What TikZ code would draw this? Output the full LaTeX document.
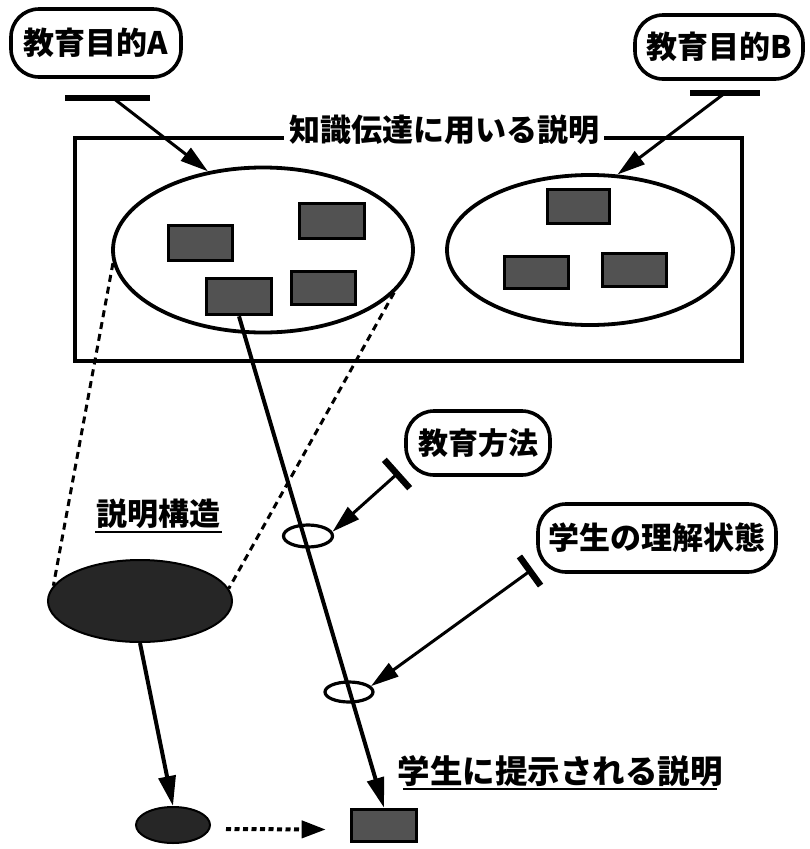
\documentclass[tikz,border=0pt]{standalone}
\usepackage{fontspec}
\setmainfont{Noto Sans CJK JP}
\usetikzlibrary{arrows.meta,shapes.geometric,calc}
\begin{document}
\begin{tikzpicture}[x=1pt,y=-1pt,
  lab/.style={draw, line width=3.6pt, rounded corners=28pt, minimum height=66pt, inner sep=6pt,
    font=\fontsize{31}{31}\selectfont\bfseries},
  txt/.style={inner sep=1pt, font=\fontsize{31}{31}\selectfont\bfseries},
  dkbox/.style={draw, line width=3.6pt, fill=black!68, inner sep=0pt},
  dkell/.style={ellipse, draw, line width=2pt, fill=black!85, inner sep=0pt},
  ring/.style={ellipse, draw, line width=3.2pt, inner sep=0pt},
  bigell/.style={ellipse, draw, line width=3.8pt, inner sep=0pt},
  bar/.style={line width=6.5pt},
  arr/.style={line width=3pt, -{Triangle[length=28pt,width=16pt]}},
  thickarr/.style={line width=4pt, -{Triangle[length=30pt,width=17pt]}},
  dashln/.style={line width=3pt, dash pattern=on 7pt off 5pt},
  dotarr/.style={line width=4pt, dash pattern=on 5pt off 3.5pt, -{Triangle[length=24pt,width=17pt]}},
  uline/.style={line width=2.6pt}
]
\useasboundingbox (0,0) rectangle (810,849);

% knowledge frame
\node[draw, line width=4pt, minimum width=667pt, minimum height=223pt, inner sep=0pt] (kb) at (408,249) {};
\node[txt, fill=white, inner sep=5pt] (kbt) at (444,130) {知識伝達に用いる説明};

% goal boxes
\node[lab, minimum width=170pt, minimum height=68pt] (gA) at (96,43) {教育目的A};
\node[lab, minimum width=168pt, minimum height=64pt] (gB) at (719,47) {教育目的B};
\node[lab, minimum width=144pt, minimum height=64pt, font=\fontsize{30}{30}\selectfont\bfseries] (meth) at (478,443) {教育方法};
\node[lab, minimum width=238pt, minimum height=68pt] (stu) at (657,538) {学生の理解状態};

% ellipses in frame
\node[bigell, minimum width=300pt, minimum height=165pt] (eA) at (263,250) {};
\node[bigell, minimum width=286pt, minimum height=150pt] (eB) at (590,250) {};

% dark boxes in A
\node[dkbox, minimum width=64pt, minimum height=35pt] (a1) at (200.5,243) {};
\node[dkbox, minimum width=65pt, minimum height=35pt] (a2) at (332,221) {};
\node[dkbox, minimum width=65pt, minimum height=36pt] (a3) at (239,296.5) {};
\node[dkbox, minimum width=64pt, minimum height=33pt] (a4) at (323.5,288) {};
% dark boxes in B
\node[dkbox, minimum width=62pt, minimum height=34pt] (b1) at (578.5,206.5) {};
\node[dkbox, minimum width=64pt, minimum height=32pt] (b2) at (536.5,272.5) {};
\node[dkbox, minimum width=64pt, minimum height=33pt] (b3) at (634.5,270) {};

% bars and goal arrows
\coordinate (bA) at (113,98);
\coordinate (bB) at (725,93);
\draw[bar] (65,98) -- (150,98);
\draw[bar] (690,93) -- (760,93);
\draw[arr] (bA) -- (eA.125);
\draw[arr] (bB) -- (eB.70);

% rings on the path
\node[ring, minimum width=49pt, minimum height=22pt] (e1) at (308,536) {};
\node[ring, minimum width=48pt, minimum height=20pt] (e2) at (349,692) {};

% presented explanation
\node[dkbox, minimum width=65pt, minimum height=32pt] (pres) at (384,825.5) {};
\draw[thickarr] (a3.south) -- (pres.north);

% method and state bars
\coordinate (bM) at (397,474);
\coordinate (bS) at (530,571);
\draw[bar] ($(bM)!19pt!90:(e1.10)$) -- ($(bM)!19pt!-90:(e1.10)$);
\draw[bar] ($(bS)!18pt!90:(e2.15)$) -- ($(bS)!18pt!-90:(e2.15)$);
\draw[arr] (bM) -- (e1.10);
\draw[arr] (bS) -- (e2.15);

% explanation structure
\node[dkell, minimum width=184pt, minimum height=82pt] (big) at (140,601) {};
\node[dkell, minimum width=74pt, minimum height=36pt] (small) at (173,825) {};
\draw[dashln] (eA.185) -- (big.170);
\draw[dashln] (eA.-18) -- (big.8);
\draw[thickarr] (big.south) -- (small.north);
\draw[dotarr] ($(small.east)+(15,4)$) -- ($(pres.west)+(-24,4)$);

% labels
\node[txt] (sk) at (158,514) {説明構造};
\draw[uline] (95,532) -- (222,532);
\node[txt, font=\fontsize{32.5}{32.5}\selectfont\bfseries] (pl) at (560,771) {学生に提示される説明};
\draw[uline] (403,789) -- (717,789);
\end{tikzpicture}
\end{document}
